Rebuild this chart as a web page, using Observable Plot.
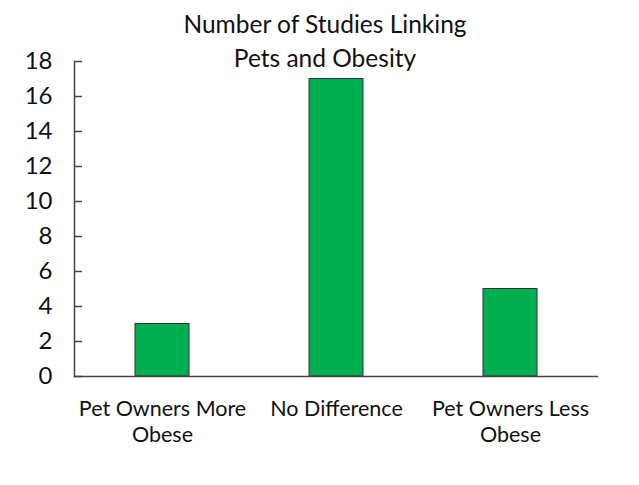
<!DOCTYPE html>
<html>
<head>
<meta charset="utf-8">
<script src="https://cdn.jsdelivr.net/npm/d3@7"></script>
<script src="https://cdn.jsdelivr.net/npm/@observablehq/plot@0.6"></script>
<style>
  html, body { margin: 0; padding: 0; background: #fff; }
  #chart svg { display: block; }
</style>
</head>
<body>
<div id="chart"></div>
<script>
const categories = ["Pet Owners More Obese", "No Difference", "Pet Owners Less Obese"];
const tickLabels = ["Pet Owners More\nObese", "No Difference", "Pet Owners Less\nObese"];
const studies = [3, 17, 5];
const yTicks = [0, 2, 4, 6, 8, 10, 12, 14, 16, 18];
const titleText = "Number of Studies Linking\nPets and Obesity";

const data = categories.map((c, i) => ({category: c, value: studies[i]}));
const font = "Lato, 'Open Sans', sans-serif";

const chart = Plot.plot({
  width: 639,
  height: 485,
  marginLeft: 74,
  marginRight: 42,
  marginTop: 61,
  marginBottom: 109,
  style: {fontFamily: font, color: "#000", background: "#fff"},
  x: {type: "band", domain: categories, padding: 0},
  y: {domain: [0, 18]},
  marks: [
    Plot.barY(data, {x: "category", y: "value", fill: "#00B050", stroke: "#333", strokeWidth: 1, insetLeft: 60, insetRight: 60}),
    Plot.frame({anchor: "left", stroke: "#444", strokeWidth: 1.5}),
    Plot.frame({anchor: "bottom", stroke: "#444", strokeWidth: 1.5}),
    Plot.axisY({ticks: yTicks, tickSize: 0, tickPadding: 22, fontSize: 24, label: null, fill: "#111"}),
    Plot.axisY({ticks: yTicks, tickSize: -8, tickFormat: () => "", label: null, stroke: "#444", strokeWidth: 1.5}),
    Plot.axisX({tickSize: 0, tickPadding: 22, fontSize: 21.5, lineHeight: 1.17, label: null, fill: "#111",
      tickFormat: d => tickLabels[categories.indexOf(d)]}),
    Plot.text([titleText], {frameAnchor: "top", dx: -11, dy: -53.5, fontSize: 24.5, lineHeight: 1.42, lineAnchor: "top", fill: "#111"})
  ]
});
document.getElementById("chart").appendChild(chart);
</script>
</body>
</html>
